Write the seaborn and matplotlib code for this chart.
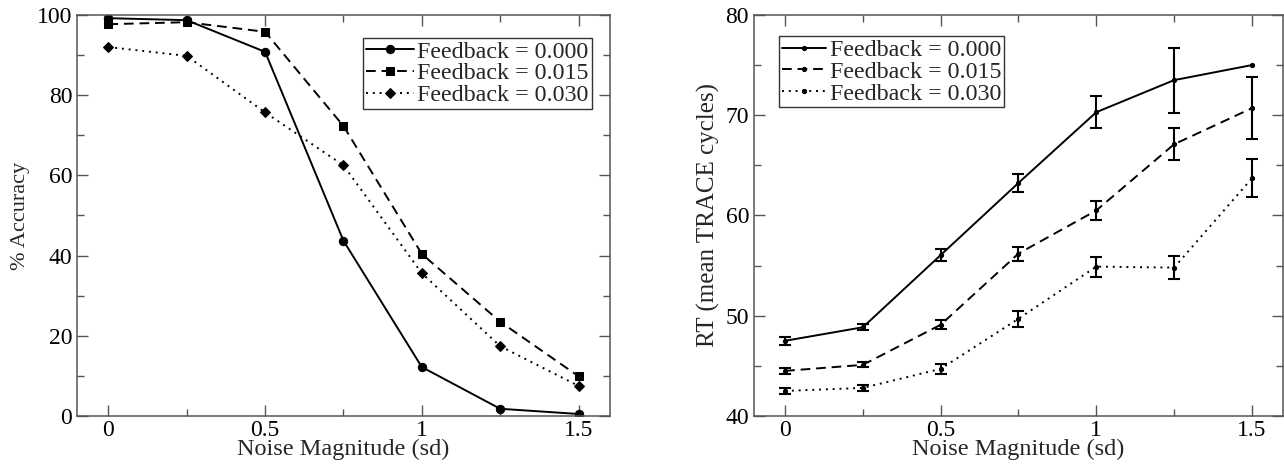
import numpy as np
import pandas as pd
import matplotlib
matplotlib.use("Agg")
import matplotlib.pyplot as plt
import seaborn as sns
from matplotlib.ticker import MultipleLocator

noise = [0, 0.25, 0.5, 0.75, 1.0, 1.25, 1.5]
labels = ["Feedback = 0.000", "Feedback = 0.015", "Feedback = 0.030"]

acc_f000 = [99.2, 98.7, 90.8, 43.7, 12.2, 1.8, 0.5]
acc_f015 = [97.7, 98.2, 95.8, 72.3, 40.4, 23.5, 9.9]
acc_f030 = [92.0, 89.8, 75.7, 62.5, 35.6, 17.4, 7.5]

rt_f000 = [47.5, 48.85, 56.05, 63.25, 70.3, 73.5, 75.0]
rt_f015 = [44.5, 45.1, 49.1, 56.2, 60.5, 67.1, 70.7]
rt_f030 = [42.5, 42.8, 44.7, 49.7, 54.9, 54.8, 63.7]

err_f000 = [0.4, 0.3, 0.6, 0.9, 1.6, 3.25, 0.0]
err_f015 = [0.3, 0.25, 0.45, 0.7, 0.95, 1.6, 3.1]
err_f030 = [0.3, 0.3, 0.5, 0.8, 1.0, 1.15, 1.9]

sns.set_theme(style="white")
plt.rcParams['font.family'] = ['Liberation Serif', 'DejaVu Serif']

FS = 17
LFS = 17.3

acc_df = pd.DataFrame({
    "noise": noise * 3,
    "acc": acc_f000 + acc_f015 + acc_f030,
    "series": [labels[0]] * 7 + [labels[1]] * 7 + [labels[2]] * 7,
})
rt_df = pd.DataFrame({
    "noise": noise * 3,
    "rt": rt_f000 + rt_f015 + rt_f030,
    "err": err_f000 + err_f015 + err_f030,
    "series": [labels[0]] * 7 + [labels[1]] * 7 + [labels[2]] * 7,
})

dash_map = {labels[0]: "", labels[1]: (5, 3), labels[2]: (1, 2.5)}
marker_map = {labels[0]: "o", labels[1]: "s", labels[2]: "D"}

fig = plt.figure(figsize=(12.84, 4.65), dpi=100)
ax1 = fig.add_axes([0.0600, 0.1054, 0.4150, 0.8624])
ax2 = fig.add_axes([0.5872, 0.1054, 0.4120, 0.8624])

sns.lineplot(data=acc_df, x="noise", y="acc", hue="series", style="series",
             palette=["black"] * 3, dashes=dash_map, markers=marker_map,
             markersize=6, linewidth=1.4, markeredgecolor="black",
             ax=ax1, legend=True)
# shrink diamond markers
for ln in ax1.get_lines():
    if ln.get_marker() == "D":
        ln.set_markersize(4.6)

sns.lineplot(data=rt_df, x="noise", y="rt", hue="series", style="series",
             palette=["black"] * 3, dashes=dash_map,
             markers={l: "o" for l in labels}, markersize=3,
             linewidth=1.4, markeredgecolor="black", ax=ax2, legend=True)

for lab in labels:
    sub = rt_df[(rt_df.series == lab) & (rt_df.err > 0)]
    ax2.errorbar(sub.noise, sub.rt, yerr=sub.err, fmt="none", ecolor="black",
                 elinewidth=1.5, capsize=4.2, capthick=1.5)

ax1.set_xlim(-0.1, 1.6)
ax1.set_ylim(0, 100)
ax2.set_xlim(-0.1, 1.6)
ax2.set_ylim(40, 80)

for ax in (ax1, ax2):
    ax.xaxis.set_minor_locator(MultipleLocator(0.25))
    ax.set_xticks([0, 0.5, 1.0, 1.5])
    ax.set_xticklabels(["0", "0.5", "1", "1.5"])
    ax.tick_params(which="both", direction="in", top=True, right=True,
                   bottom=True, left=True, color="#555555", labelsize=FS,
                   labelcolor="black")
    ax.tick_params(axis="x", which="major", pad=3)
    ax.tick_params(axis="y", which="major", pad=3.5)
    ax.tick_params(which="major", length=8, width=1)
    ax.tick_params(which="minor", length=5, width=1)
    for s in ax.spines.values():
        s.set_color("#555555")
        s.set_linewidth(1.1)
    ax.set_xlabel("Noise Magnitude (sd)", fontsize=FS + 0.5, labelpad=-1.5)

ax1.yaxis.set_minor_locator(MultipleLocator(10))
ax2.yaxis.set_minor_locator(MultipleLocator(5))
ax1.set_yticks([0, 20, 40, 60, 80, 100])
ax2.set_yticks([40, 50, 60, 70, 80])

ax1.set_ylabel("% Accuracy", fontsize=16, labelpad=5)
ax2.set_ylabel("RT (mean TRACE cycles)", fontsize=18, labelpad=4)

leg_kw = dict(fontsize=LFS, frameon=True, fancybox=False, edgecolor="black",
              handletextpad=0.15, borderpad=0.12, labelspacing=0.0,
              borderaxespad=0)
leg1 = ax1.legend(loc="upper right", bbox_to_anchor=(0.966, 0.943),
                  handlelength=2.0, **leg_kw)
leg1.get_frame().set_linewidth(1.0)
leg2 = ax2.legend(loc="upper left", bbox_to_anchor=(0.047, 0.947),
                  handlelength=1.85, **leg_kw)
leg2.get_frame().set_linewidth(1.0)

fig.savefig("out.png", dpi=100)
